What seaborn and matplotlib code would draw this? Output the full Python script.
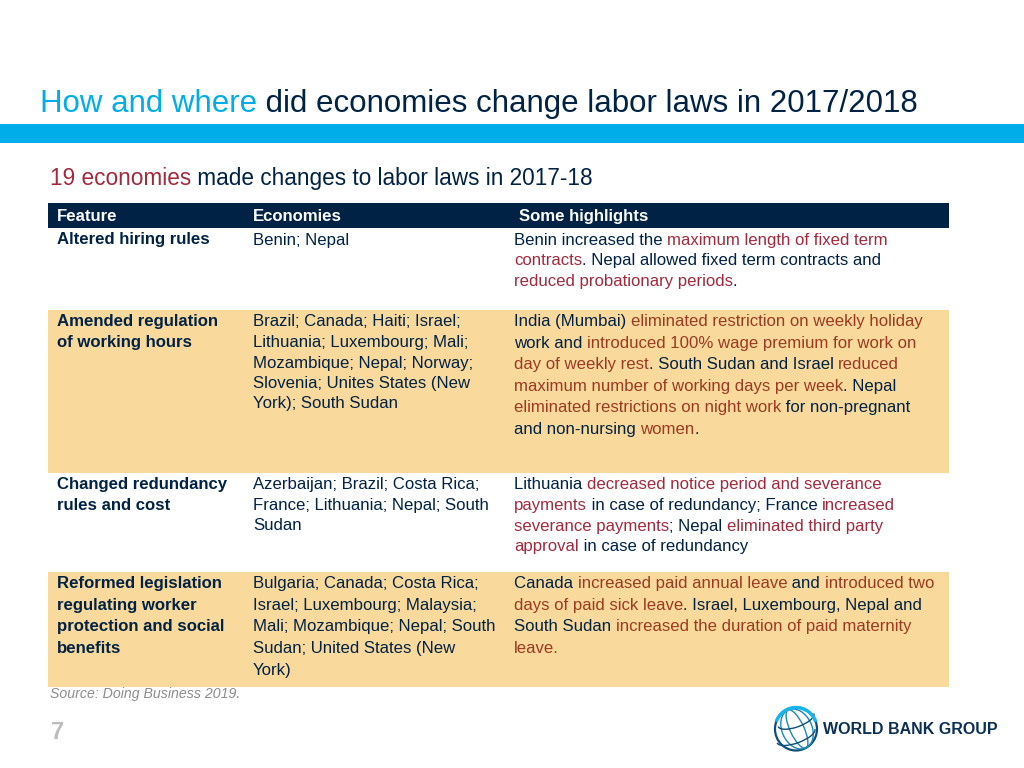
import re
import numpy as np
import matplotlib
matplotlib.use('Agg')
import matplotlib.pyplot as plt
from matplotlib.patches import Rectangle, Ellipse, Arc
import seaborn as sns

NAVY = '#002244'
CYAN = '#00ADE8'
PEACH = '#FADA9C'
RED_WHITE = '#A32A3C'
RED_PEACH = '#9C3A22'

title_parts = '[How and where] did economies change labor laws in 2017/2018'
subtitle = '[19 economies] made changes to labor laws in 2017-18'
headers = ['Feature', 'Economies', 'Some highlights']
source = 'Source: Doing Business 2019.'
page = '7'

# text in [] is the coloured part
feature_lines = [
    ['Altered hiring rules'],
    ['Amended regulation', 'of working hours'],
    ['Changed redundancy', 'rules and cost'],
    ['Reformed legislation', 'regulating worker', 'protection and social', 'benefits'],
]
economy_lines = [
    ['Benin; Nepal'],
    ['Brazil; Canada; Haiti; Israel;', 'Lithuania; Luxembourg; Mali;', 'Mozambique; Nepal; Norway;',
     'Slovenia; Unites States (New', 'York); South Sudan'],
    ['Azerbaijan; Brazil; Costa Rica;', 'France; Lithuania; Nepal; South', 'Sudan'],
    ['Bulgaria; Canada; Costa Rica;', 'Israel; Luxembourg; Malaysia;', 'Mali; Mozambique; Nepal; South',
     'Sudan; United States (New', 'York)'],
]
highlight_lines = [
    ['Benin increased the [maximum length of fixed term]', '[contracts]. Nepal allowed fixed term contracts and',
     '[reduced probationary periods].'],
    ['India (Mumbai) [eliminated restriction on weekly holiday]', 'work and [introduced 100% wage premium for work on]',
     '[day of weekly rest]. South Sudan and Israel [reduced]', '[maximum number of working days per week]. Nepal',
     '[eliminated restrictions on night work] for non-pregnant', 'and non-nursing [women].'],
    ['Lithuania [decreased notice period and severance]', '[payments] in case of redundancy; France [increased]',
     '[severance payments]; Nepal [eliminated third party]', '[approval] in case of redundancy'],
    ['Canada [increased paid annual leave] and [introduced two]', '[days of paid sick leave]. Israel, Luxembourg, Nepal and',
     'South Sudan [increased the duration of paid maternity]', '[leave.]'],
]

# baselines in pixels
feature_y = [[244], [326, 347], [489, 510], [588, 610, 631, 653]]
economy_y = [[245], [326, 347, 368, 388, 408], [489, 510, 530], [588, 610, 631, 653, 675]]
highlight_y = [[245, 265, 286], [326, 348, 369, 391, 412, 434], [489, 510, 531, 551], [588, 610, 631, 653]]
peach_rows = [(310, 473), (572, 687)]

sns.set_theme(style='white')
plt.rcParams['font.family'] = ['Liberation Sans', 'DejaVu Sans']

fig = plt.figure(figsize=(10.24, 7.68), dpi=100)
ax = fig.add_axes([0, 0, 1, 1])
ax.set_xlim(0, 1024)
ax.set_ylim(768, 0)
ax.axis('off')
renderer = fig.canvas.get_renderer()


def text_width(s, **kw):
    # the bar keeps trailing spaces from being dropped in the measure
    t = ax.text(0, 0, s + '|', **kw)
    w = t.get_window_extent(renderer).width
    t.set_text('|')
    w -= t.get_window_extent(renderer).width
    t.remove()
    return w


def rich_line(x, y, line, base, accent, **kw):
    parts = re.split(r'(\[.*?\])', line)
    done = ''
    for part in parts:
        if not part:
            continue
        color = base
        if part.startswith('['):
            part = part[1:-1]
            color = accent
        ax.text(x + text_width(done, **kw), y, part, color=color, va='baseline', ha='left', **kw)
        done += part


# title and blue band
rich_line(40, 112, title_parts, NAVY, CYAN, fontsize=22.5)
ax.add_patch(Rectangle((0, 124), 1024, 19, color=CYAN, lw=0))
rich_line(50, 185, subtitle, NAVY, RED_WHITE, fontsize=16.3)

# table
ax.add_patch(Rectangle((48, 203), 901, 25, color=NAVY, lw=0))
for x, h in zip([57, 253, 519], headers):
    ax.text(x, 221, h, color='white', fontsize=12.1, fontweight='bold', va='baseline')
for top, bottom in peach_rows:
    ax.add_patch(Rectangle((48, top), 901, bottom - top, color=PEACH, lw=0))

for r in range(4):
    accent = RED_PEACH if r % 2 else RED_WHITE
    for line, y in zip(feature_lines[r], feature_y[r]):
        ax.text(57, y, line, color=NAVY, fontsize=12.1, fontweight='bold', va='baseline')
    for line, y in zip(economy_lines[r], economy_y[r]):
        ax.text(253, y, line, color=NAVY, fontsize=12.1, va='baseline')
    for line, y in zip(highlight_lines[r], highlight_y[r]):
        rich_line(514, y, line, NAVY, accent, fontsize=12.1)

ax.text(50, 698, source, color='#8C8C8C', fontsize=10.2, style='italic', va='baseline')
ax.text(51, 739, page, color='#BDBDBD', fontsize=17, fontweight='bold', va='baseline')

# logo: globe outline and text
cx, cy = 796, 729
ax.add_patch(Ellipse((cx, cy), 42, 43, fill=False, ec='#0B4F7A', lw=1.6))
for w in [14, 30]:
    ax.add_patch(Ellipse((cx + 1, cy), w, 42, angle=-25, fill=False, ec='#1D87B8', lw=1.0))
for w, dy in [(38, -9), (40, 7)]:
    ax.add_patch(Arc((cx, cy + dy), w, 14, angle=-20, theta1=0, theta2=180, ec='#0B4F7A', lw=1.0))
ax.add_patch(Arc((cx, cy), 42, 43, angle=0, theta1=200, theta2=340, ec='#19B5EA', lw=2.5))
ax.text(823, 734, 'WORLD BANK GROUP', color='#0B2F55', fontsize=11.5, fontweight='bold', va='baseline')

sns.despine(ax=ax, left=True, bottom=True)
fig.savefig('out.png', dpi=100)
